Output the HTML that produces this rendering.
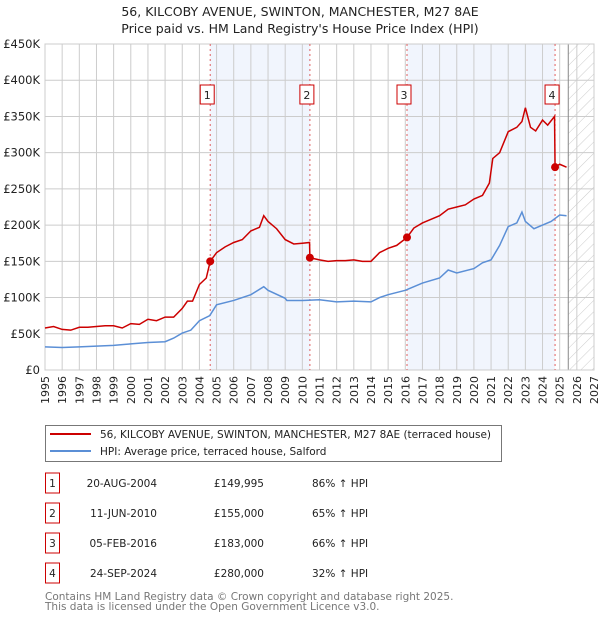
<!DOCTYPE html>
<html><head><meta charset="utf-8"><style>
body{margin:0;background:#fff;font-family:"DejaVu Sans","Liberation Sans",sans-serif;}
svg text{font-family:"DejaVu Sans","Liberation Sans",sans-serif;}
</style></head><body>
<svg id="c" width="600" height="620" xmlns="http://www.w3.org/2000/svg">
<defs><pattern id="hatch" width="8" height="8" patternUnits="userSpaceOnUse" patternTransform="rotate(45)"><line x1="0" y1="0" x2="0" y2="8" stroke="#ccc" stroke-width="1"/></pattern></defs>
<text x="300" y="16" text-anchor="middle" font-size="12.5" fill="#222">56, KILCOBY AVENUE, SWINTON, MANCHESTER, M27 8AE</text>
<text x="300" y="33" text-anchor="middle" font-size="12.5" fill="#222">Price paid vs. HM Land Registry's House Price Index (HPI)</text>
<g id="plot"></g>
<g>
<rect x="45.5" y="425.5" width="456" height="36" fill="#fff" stroke="#777"/>
<line x1="50" y1="434" x2="91" y2="434" stroke="#cc0000" stroke-width="2"/>
<text x="100" y="438" font-size="10.5" fill="#222">56, KILCOBY AVENUE, SWINTON, MANCHESTER, M27 8AE (terraced house)</text>
<line x1="50" y1="451" x2="91" y2="451" stroke="#5b8fd6" stroke-width="2"/>
<text x="100" y="455" font-size="10.5" fill="#222">HPI: Average price, terraced house, Salford</text>
</g>
<g id="table" font-size="10.5" fill="#222"></g>
<text x="45" y="600" font-size="10.5" fill="#777">Contains HM Land Registry data © Crown copyright and database right 2025.</text>
<text x="45" y="610" font-size="10.5" fill="#777">This data is licensed under the Open Government Licence v3.0.</text>
</svg>
<script>
const yTicks=[0,50,100,150,200,250,300,350,400,450];
const yTickLabels=["£0","£50K","£100K","£150K","£200K","£250K","£300K","£350K","£400K","£450K"];
const xYears=[1995,1996,1997,1998,1999,2000,2001,2002,2003,2004,2005,2006,2007,2008,2009,2010,2011,2012,2013,2014,2015,2016,2017,2018,2019,2020,2021,2022,2023,2024,2025,2026,2027];
const saleYears=[2004.63,2010.44,2016.1,2024.73];
const salePrices=[149.995,155,183,280];
const saleDates=["20-AUG-2004","11-JUN-2010","05-FEB-2016","24-SEP-2024"];
const salePriceLabels=["£149,995","£155,000","£183,000","£280,000"];
const saleHpi=["86% ↑ HPI","65% ↑ HPI","66% ↑ HPI","32% ↑ HPI"];
const redX=[1995,1995.5,1996,1996.5,1997,1997.5,1998,1998.5,1999,1999.5,2000,2000.5,2001,2001.5,2002,2002.5,2003,2003.3,2003.6,2004,2004.4,2004.63,2005,2005.5,2006,2006.5,2007,2007.5,2007.75,2008,2008.5,2009,2009.5,2010,2010.42,2010.44,2011,2011.5,2012,2012.5,2013,2013.5,2014,2014.5,2015,2015.5,2016.1,2016.5,2017,2017.5,2018,2018.5,2019,2019.5,2020,2020.5,2020.9,2021.1,2021.5,2022,2022.5,2022.8,2023,2023.3,2023.6,2024,2024.3,2024.7,2024.73,2025,2025.4];
const redY=[58,60,56,55,59,59,60,61,61,58,64,63,70,68,73,73,85,95,95,118,127,150,162,170,176,180,192,197,213,205,195,180,174,175,176,155,152,150,151,151,152,150,150,162,168,172,183,196,203,208,213,222,225,228,236,241,258,292,300,329,335,343,362,335,330,345,338,350,280,284,280];
const hpiX=[1995,1996,1997,1998,1999,2000,2001,2002,2002.5,2003,2003.5,2004,2004.6,2005,2006,2007,2007.75,2008,2009,2009.1,2010,2011,2012,2013,2014,2014.5,2015,2016,2016.5,2017,2018,2018.5,2019,2020,2020.5,2021,2021.5,2022,2022.5,2022.8,2023,2023.5,2024,2024.5,2025,2025.4];
const hpiY=[32,31,32,33,34,36,38,39,44,51,55,68,75,90,96,104,115,110,99,96,96,97,94,95,94,100,104,110,115,120,127,138,134,140,148,152,172,198,203,218,205,195,200,205,214,213];
const X=y=>45+(y-1995)*(549/32);
const Y=v=>370-v*(326/450);
const NS="http://www.w3.org/2000/svg";
const plot=document.getElementById('plot');
function mk(t,a,p){const e=document.createElementNS(NS,t);for(const k in a)e.setAttribute(k,a[k]);(p||plot).appendChild(e);return e;}
mk('rect',{x:45,y:44,width:549,height:326,fill:'#fff'});
let sh=mk('rect',{x:X(saleYears[0]),y:44,width:X(saleYears[1])-X(saleYears[0]),height:326,fill:'#eef3fc',opacity:0.8});

sh=mk('rect',{x:X(saleYears[2]),y:44,width:X(saleYears[3])-X(saleYears[2]),height:326,fill:'#eef3fc',opacity:0.8});

let ht=mk('rect',{x:X(2025.5),y:44,width:594-X(2025.5),height:326,fill:'url(#hatch)'});

yTicks.forEach((v,i)=>{
 mk('line',{x1:45,x2:594,y1:Y(v),y2:Y(v),stroke:'#ccc','stroke-width':1});
 const t=mk('text',{x:40,y:Y(v)+4,'text-anchor':'end','font-size':11.5,fill:'#222'});t.textContent=yTickLabels[i];
 
});
xYears.forEach(y=>{
 mk('line',{x1:X(y),x2:X(y),y1:44,y2:370,stroke:'#ccc','stroke-width':1});
 const t=mk('text',{x:0,y:0,'text-anchor':'end','font-size':11,fill:'#222',transform:'translate('+(X(y)+4)+',376) rotate(-90)'});t.textContent=y;
 
});
mk('line',{x1:X(2025.5),x2:X(2025.5),y1:44,y2:370,stroke:'#888','stroke-width':1});
mk('rect',{x:45,y:44,width:549,height:326,fill:'none',stroke:'#ccc'});
saleYears.forEach((s,i)=>{
 mk('line',{x1:X(s),x2:X(s),y1:44,y2:370,stroke:'#e06060','stroke-width':1,'stroke-dasharray':'2,3'});
 const g=mk('g',{});
 mk('rect',{x:X(s)-10,y:85,width:14,height:19,fill:'#fff',stroke:'#cc0000'},g);
 const t=mk('text',{x:X(s)-3,y:99,'text-anchor':'middle','font-size':11,fill:'#222'},g);t.textContent=i+1;
});
const hp=mk('polyline',{points:hpiX.map((x,i)=>X(x)+','+Y(hpiY[i])).join(' '),fill:'none',stroke:'#5b8fd6','stroke-width':1.5});

const rp=mk('polyline',{points:redX.map((x,i)=>X(x)+','+Y(redY[i])).join(' '),fill:'none',stroke:'#cc0000','stroke-width':1.5});

saleYears.forEach((s,i)=>{const c=mk('circle',{cx:X(s),cy:Y(salePrices[i]),r:4,fill:'#cc0000'});
 });
const tb=document.getElementById('table');
saleYears.forEach((s,i)=>{
 const cy=483+i*30;
 const g=mk('g',{},tb);
 mk('rect',{x:45.5,y:cy-10,width:14,height:20,fill:'#fff',stroke:'#cc0000'},g);
 let t=mk('text',{x:52.5,y:cy+4,'text-anchor':'middle'},g);t.textContent=i+1;
 t=mk('text',{x:157,y:cy+4,'text-anchor':'end'},g);t.textContent=saleDates[i];
 t=mk('text',{x:264,y:cy+4,'text-anchor':'end'},g);t.textContent=salePriceLabels[i];
 t=mk('text',{x:312,y:cy+4},g);t.textContent=saleHpi[i];
});
</script>
</body></html>
